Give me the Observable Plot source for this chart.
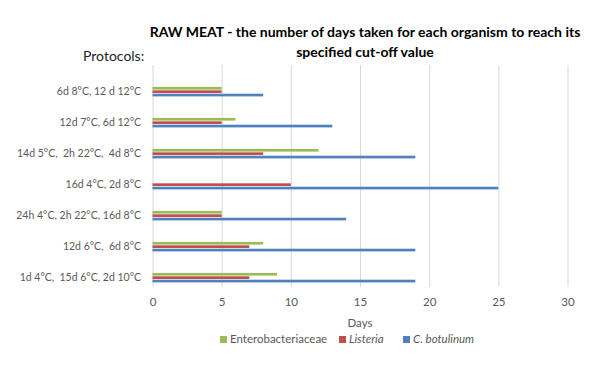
<!DOCTYPE html>
<html>
<head>
<meta charset="utf-8">
<script src="https://cdn.jsdelivr.net/npm/d3@7"></script>
<script src="https://cdn.jsdelivr.net/npm/@observablehq/plot@0.6"></script>
<style>
  html, body { margin: 0; padding: 0; background: #fff; }
  #wrap { position: relative; width: 592px; height: 375px; overflow: hidden; font-family: Lato, "Open Sans", sans-serif; }
  #chart { position: absolute; left: 0; top: 0; }
  .abs { position: absolute; white-space: nowrap; }
  #title { left: 140px; width: 450px; top: 22px; text-align: center; font-weight: bold; font-size: 14px; line-height: 20px; color: #000; }
  #protocols { left: 83px; top: 47px; font-size: 14px; color: #222; }
  #xlabel { left: 340px; width: 40px; text-align: center; top: 316px; font-size: 11.5px; color: #595959; }
  #legend { top: 332px; left: 0; width: 592px; font-size: 11.5px; color: #595959; }
  .item { position: absolute; top: 0; }
  .sw { display: inline-block; width: 7px; height: 7px; margin-right: 3px; vertical-align: 0px; }
</style>
</head>
<body>
<div id="wrap">
  <div id="chart"></div>
  <div id="title" class="abs">RAW MEAT - the number of days taken for each organism to reach its<br>specified cut-off value</div>
  <div id="protocols" class="abs">Protocols:</div>
  <div id="xlabel" class="abs">Days</div>
  <div id="legend" class="abs"></div>
</div>
<script>
// Categories, top to bottom
const protocols = [
  "6d 8°C, 12 d 12°C",
  "12d 7°C, 6d 12°C",
  "14d 5°C,  2h 22°C,  4d 8°C",
  "16d 4°C, 2d 8°C",
  "24h 4°C, 2h 22°C, 16d 8°C",
  "12d 6°C,  6d 8°C",
  "1d 4°C,  15d 6°C, 2d 10°C"
];
const seriesNames = ["Enterobacteriaceae", "Listeria", "C. botulinum"];
const seriesColors = ["#9BBB59", "#C0504D", "#4F81BD"];
const enterobacteriaceae = [5, 6, 12, 0, 5, 8, 9];
const listeria = [5, 5, 8, 10, 5, 7, 7];
const botulinum = [8, 13, 19, 25, 14, 19, 19];
const xTicks = [0, 5, 10, 15, 20, 25, 30];

const rows = (vals) => protocols.map((p, i) => ({protocol: p, days: vals[i]}));

const W = 592, H = 375;
const mTop = 65, mBottom = 88, mLeft = 152.5, mRight = 24.5;
const step = (H - mTop - mBottom) / protocols.length;
// bars occupy the lower part of each band (Excel style)
const barH = 3.4;
const baseBottom = 2.6;
const inset = (k) => ({
  insetBottom: baseBottom + (2 - k) * barH,
  insetTop: step - baseBottom - (3 - k) * barH
});

const chart = Plot.plot({
  width: W,
  height: H,
  marginTop: mTop,
  marginBottom: mBottom,
  marginLeft: mLeft,
  marginRight: mRight,
  style: {fontFamily: "Lato, 'Open Sans', sans-serif", fontSize: "11.5px", color: "#595959", background: "white"},
  x: {domain: [0, 30], ticks: xTicks, tickSize: 0, tickPadding: 10, label: null},
  y: {domain: protocols, padding: 0, axis: null},
  marks: [
    Plot.gridX(xTicks, {stroke: "#D9D9D9", strokeOpacity: 1, strokeWidth: 1}),
    Plot.axisY({tickSize: 0, tickPadding: 12, dy: 7.5, label: null, fontSize: 10.5}),
    Plot.barX(rows(enterobacteriaceae), {x: "days", y: "protocol", fill: seriesColors[0], ...inset(0)}),
    Plot.barX(rows(listeria), {x: "days", y: "protocol", fill: seriesColors[1], ...inset(1)}),
    Plot.barX(rows(botulinum), {x: "days", y: "protocol", fill: seriesColors[2], ...inset(2)})
  ]
});
document.getElementById("chart").appendChild(chart);

// Legend
const legend = document.getElementById("legend");
const legendX = [220, 339, 403];
seriesNames.forEach((name, i) => {
  const d = document.createElement("div");
  d.className = "item";
  d.style.left = legendX[i] + "px";
  const sw = document.createElement("span");
  sw.className = "sw";
  sw.style.background = seriesColors[i];
  const t = document.createElement("span");
  t.textContent = name;
  if (i > 0) t.style.fontStyle = "italic";
  d.appendChild(sw);
  d.appendChild(t);
  legend.appendChild(d);
});
</script>
</body>
</html>
